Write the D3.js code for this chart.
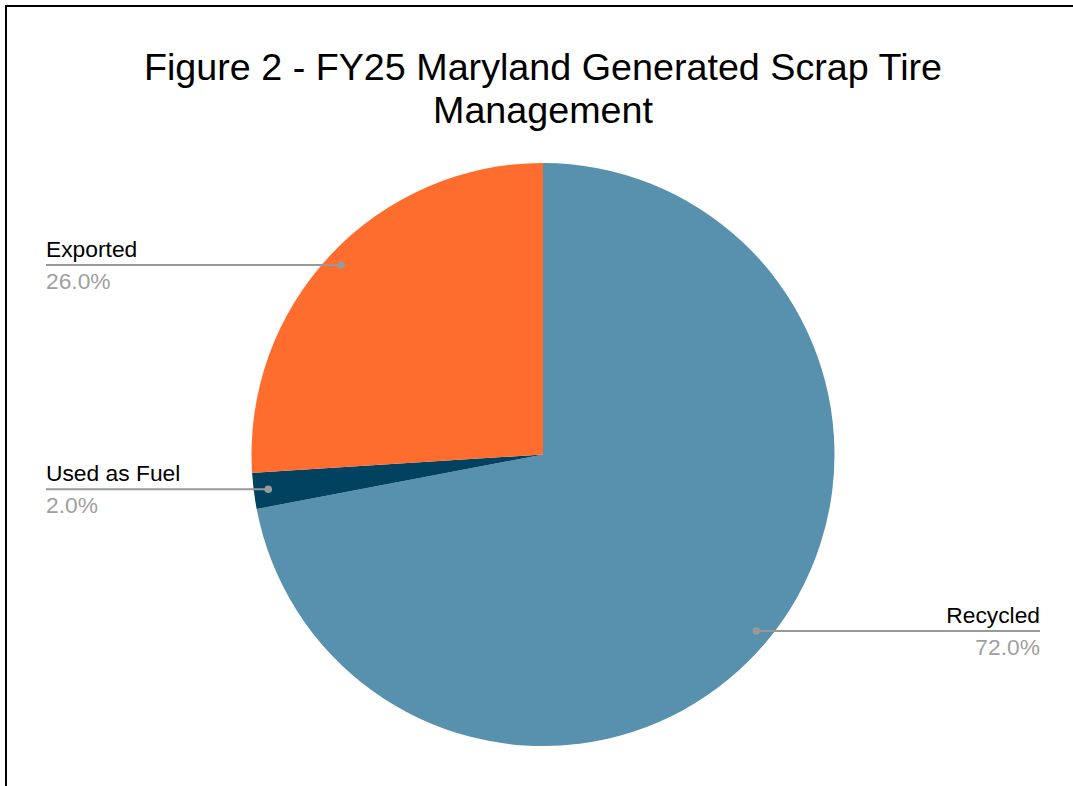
<!DOCTYPE html>
<html>
<head>
<meta charset="utf-8">
<script src="https://cdn.jsdelivr.net/npm/d3@7"></script>
<style>
  body { margin: 0; background: #fff; }
  svg { display: block; font-family: "Liberation Sans", Arial, sans-serif; }
</style>
</head>
<body>
<svg id="chart" width="1073" height="786"></svg>
<script>
// data
const titleLines = ["Figure 2 - FY25 Maryland Generated Scrap Tire", "Management"];
const categories = ["Recycled", "Used as Fuel", "Exported"];
const shares = [72.0, 2.0, 26.0];
const colors = ["#5891ad", "#004260", "#ff6d2e"];

let svg = d3.select('#chart');
let width = +svg.attr('width');
let height = +svg.attr('height');

// frame (only top and left show in the crop)
svg.append('rect')
    .attr('x', 6).attr('y', 6)
    .attr('width', width + 20).attr('height', height + 20)
    .attr('fill', 'none')
    .attr('stroke', '#000')
    .attr('stroke-width', 2);

// title
svg.append('text')
    .attr('x', 543)
    .attr('y', 80)
    .attr('text-anchor', 'middle')
    .style('font-size', '37.7px')
    .attr('fill', '#000')
    .selectAll('tspan')
    .data(titleLines)
    .enter()
    .append('tspan')
    .attr('x', 543)
    .attr('dy', (d, i) => i === 0 ? 0 : 43)
    .text(d => d);

let cx = 543, cy = 454.5, r = 291.5;
let data = categories.map((c, i) => ({name: c, value: shares[i], color: colors[i]}));

let pie = d3.pie().sort(null).value(d => d.value);
let arc = d3.arc().innerRadius(0).outerRadius(r);
let arcs = pie(data);

let g = svg.append('g').attr('transform', `translate(${cx},${cy})`);

g.selectAll('path')
    .data(arcs)
    .enter()
    .append('path')
    .attr('d', arc)
    .attr('fill', d => d.data.color);

// leader lines and labels
let dotArc = d3.arc().innerRadius(r * 0.95).outerRadius(r * 0.95);
let leftX = 46, rightX = 1040;

arcs.forEach(a => {
    let [px, py] = dotArc.centroid(a);
    px += cx; py += cy;
    let onRight = px > cx;
    let endX = onRight ? rightX : leftX;
    let anchor = onRight ? 'end' : 'start';

    svg.append('line')
        .attr('x1', px).attr('y1', py)
        .attr('x2', endX).attr('y2', py)
        .attr('stroke', '#999')
        .attr('stroke-width', 2);

    svg.append('circle')
        .attr('cx', px).attr('cy', py)
        .attr('r', 3.8)
        .attr('fill', '#999');

    svg.append('text')
        .attr('x', endX).attr('y', py - 8)
        .attr('text-anchor', anchor)
        .style('font-size', '22.8px')
        .attr('fill', '#000')
        .text(a.data.name);

    svg.append('text')
        .attr('x', endX).attr('y', py + 24)
        .attr('text-anchor', anchor)
        .style('font-size', '22.8px')
        .attr('fill', '#a0a0a0')
        .text(a.data.value.toFixed(1) + '%');
});
</script>
</body>
</html>
